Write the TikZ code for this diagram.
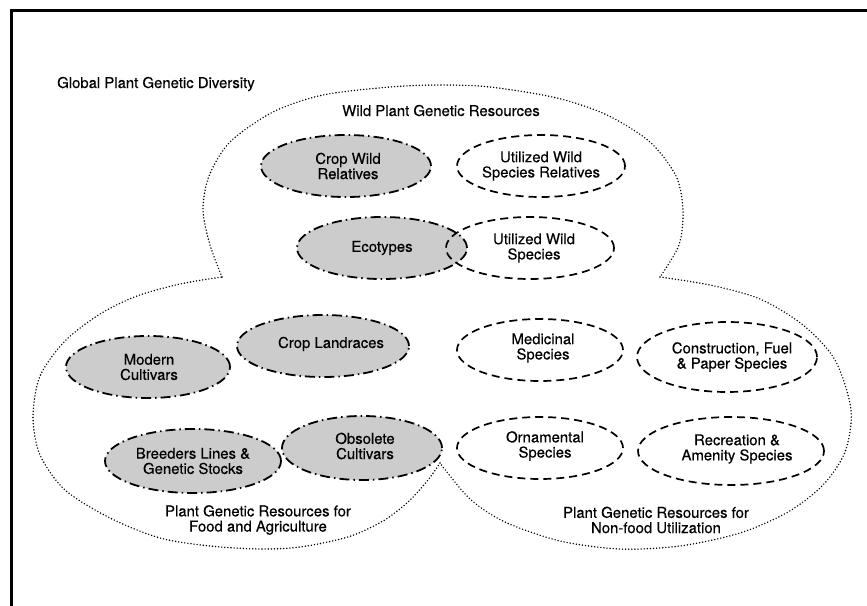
\documentclass[tikz,border=0pt]{standalone}
\usepackage{fontspec}
\setmainfont{TeX Gyre Heros}[FakeBold=0.35]
\begin{document}
\begin{tikzpicture}[x=1pt,y=-1pt,
  lbl/.style={align=center, font=\fontsize{14.9}{15.2}\selectfont, inner sep=0pt},
  cropell/.style={fill=black!20, draw=black, line width=1.8pt, dash pattern=on 10pt off 4pt on 1.5pt off 4pt},
  useell/.style={draw=black, line width=1.7pt, dash pattern=on 8pt off 5pt},
  outerline/.style={line width=1.6pt, dash pattern=on 0pt off 3.1pt, line cap=round},
  framel/.style={line width=3pt}]
\useasboundingbox (0,0) rectangle (867,605);
% frame
\draw[framel] (11,620) -- (11,10) -- (880,10);
% outline of the three lobes
\draw[outerline] plot[smooth] coordinates {(222,277) (210,245) (203,210) (209,176) (230,142) (273,112) (323,95) (390,87) (440,85) (490,87) (557,98) (607,115) (650,142) (676,176) (683,210) (679,245) (660,277)};
\draw[outerline] plot[smooth] coordinates {(660,277) (710,285) (760,299) (803,325) (835,360) (851,410) (845,452) (823,485) (788,512) (740,533) (680,546) (620,549) (560,541) (505,522) (470,499) (440,463)};
\draw[outerline] plot[smooth] coordinates {(440,463) (428,480) (408,502) (383,521) (348,537) (300,547) (260,549) (210,546) (160,538) (110,518) (65,490) (40,455) (33,417) (40,376) (65,341) (100,314) (137,296) (180,284) (222,277)};
% group labels
\node[lbl, anchor=base west] (gpgd) at (57,88) {Global Plant Genetic Diversity};
\node[lbl, anchor=base] (wpgr) at (441,116) {Wild Plant Genetic Resources};
\node[lbl] (pgrfa) at (258,520) {Plant Genetic Resources for\\Food and Agriculture};
\node[lbl] (pgrnf) at (656,520) {Plant Genetic Resources for\\Non-food Utilization};
% wild ellipses
\path[cropell] (346,166) ellipse (85pt and 31pt);
\node[lbl] (cwr) at (348,166) {Crop Wild\\Relatives};
\path[useell] (541,166) ellipse (84pt and 31pt);
\node[lbl] (uwsr) at (541,166) {Utilized Wild\\Species Relatives};
\path[cropell] (382,248) ellipse (85pt and 31pt);
\node[lbl] (eco) at (382,248) {Ecotypes};
\path[useell] (530,248) ellipse (84pt and 31pt);
\node[lbl] (uws) at (534,248) {Utilized Wild\\Species};
% food and agriculture
\path[cropell] (148,367) ellipse (82pt and 31pt);
\node[lbl] (mc) at (149,367) {Modern\\Cultivars};
\path[cropell] (323,346) ellipse (86pt and 31pt);
\node[lbl] (cl) at (331,344) {Crop Landraces};
\path[cropell] (193,461) ellipse (88pt and 32pt);
\node[lbl] (bl) at (193,461) {Breeders Lines \&\\Genetic Stocks};
\path[cropell] (362,448) ellipse (80pt and 32pt);
\node[lbl] (oc) at (365,446) {Obsolete\\Cultivars};
% non-food
\path[useell] (540,350) ellipse (83pt and 31pt);
\node[lbl] (med) at (543,348) {Medicinal\\Species};
\path[useell] (727,357) ellipse (90pt and 35pt);
\node[lbl] (cfp) at (732,357) {Construction, Fuel\\\& Paper Species};
\path[useell] (540,448) ellipse (83pt and 31pt);
\node[lbl] (orn) at (545,446) {Ornamental\\Species};
\path[useell] (731,451) ellipse (93pt and 34pt);
\node[lbl] (rec) at (737,449) {Recreation \&\\Amenity Species};
\end{tikzpicture}
\end{document}
